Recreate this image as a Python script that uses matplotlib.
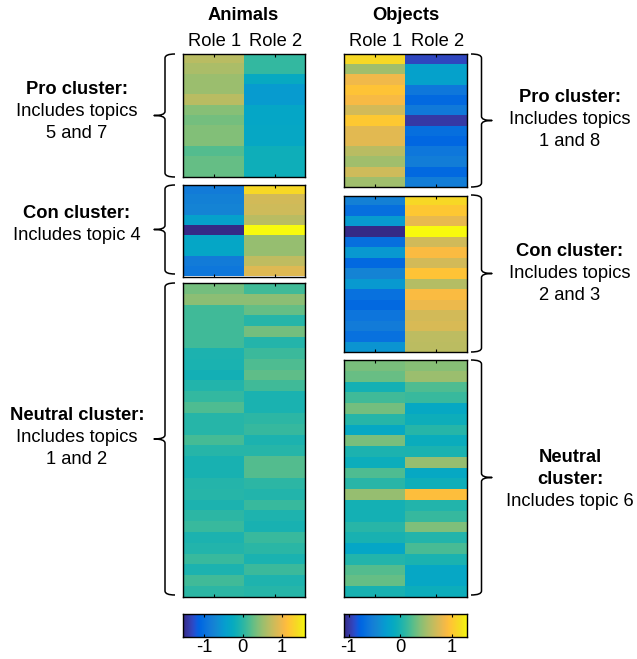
import numpy as np
import matplotlib
matplotlib.use("Agg")
import matplotlib.pyplot as plt
from matplotlib.colors import LinearSegmentedColormap
from matplotlib.path import Path
from matplotlib.patches import PathPatch

plt.rcParams['font.family'] = ['Liberation Sans', 'DejaVu Sans']
plt.rcParams['axes.unicode_minus'] = False

# ---------------- data ----------------
panels = ["Animals", "Objects"]
roles = ["Role 1", "Role 2"]

animals_pro_r1 = [0.66, 0.59, 0.50, 0.50, 0.66, 0.40, 0.31, 0.37, 0.37, 0.18, 0.25, 0.25]
animals_pro_r2 = [0.03, 0.03, -0.29, -0.51, -0.51, -0.35, -0.35, -0.32, -0.32, -0.20, -0.20, -0.20]
animals_con_r1 = [-0.86, -0.79, -0.76, -0.42, -1.55, -0.35, -0.35, -0.86, -0.92]
animals_con_r2 = [1.35, 0.81, 0.78, 0.66, 1.60, 0.47, 0.47, 0.69, 0.88]
animals_neu_r1 = [0.31, 0.43, 0.09, 0.09, 0.09, 0.09, -0.10, -0.12, -0.16, -0.07, 0.03, 0.15,
                  -0.04, -0.04, 0.12, -0.04, -0.13, -0.13, -0.05, -0.04, -0.10, 0.00, 0.06,
                  -0.10, -0.07, 0.06, -0.10, 0.09, 0.00]
animals_neu_r2 = [0.09, 0.43, 0.25, -0.04, 0.31, -0.05, 0.07, 0.15, 0.23, 0.09, -0.12, -0.12,
                  0.00, 0.04, -0.10, -0.04, 0.18, 0.18, 0.00, -0.07, 0.06, -0.09, -0.13,
                  0.06, -0.02, -0.12, 0.07, -0.09, -0.04]

objects_pro_r1 = [1.11, 0.48, 0.84, 0.96, 0.87, 0.70, 1.00, 0.77, 0.77, 0.58, 0.48, 0.68, 0.48]
objects_pro_r2 = [-0.93, -0.24, -0.24, -0.62, -0.74, -0.60, -1.00, -0.69, -0.76, -0.62, -0.55, -0.74, -0.55]
objects_con_r1 = [-0.52, -0.69, -0.31, -1.10, -0.69, -0.33, -0.74, -0.50, -0.33, -0.67, -0.74,
                  -0.64, -0.57, -0.67, -0.36]
objects_con_r2 = [1.11, 0.99, 0.80, 1.30, 0.69, 0.89, 0.70, 0.96, 0.56, 0.89, 0.82, 0.70, 0.72, 0.60, 0.59]
objects_neu_r1 = [0.34, 0.28, -0.04, 0.15, 0.32, 0.05, -0.16, 0.34, 0.00, -0.09, 0.20, 0.06,
                  0.44, -0.04, -0.04, 0.06, -0.02, -0.19, 0.03, 0.22, 0.27, -0.02]
objects_neu_r2 = [0.39, 0.46, 0.20, 0.12, -0.16, -0.08, 0.05, -0.10, -0.01, 0.44, -0.16, -0.07,
                  0.92, 0.03, 0.11, 0.36, 0.03, 0.18, -0.01, -0.18, -0.18, -0.09]

animals_clim = [-1.55, 1.60]
objects_clim = [-1.10, 1.30]
cbar_ticks = [-1, 0, 1]

animals_labels = [
    ["Pro cluster:", "Includes topics", "5 and 7"],
    ["Con cluster:", "Includes topic 4"],
    ["Neutral cluster:", "Includes topics", "1 and 2"],
]
animals_bold = [1, 1, 1]
objects_labels = [
    ["Pro cluster:", "Includes topics", "1 and 8"],
    ["Con cluster:", "Includes topics", "2 and 3"],
    ["Neutral", "cluster:", "Includes topic 6"],
]
objects_bold = [1, 1, 2]

# ---------------- parula colormap ----------------
_parula = [[0.2081, 0.1663, 0.5292], [0.2116, 0.1898, 0.5777], [0.2123, 0.2138, 0.6270],
           [0.2081, 0.2386, 0.6771], [0.1959, 0.2645, 0.7279], [0.1707, 0.2919, 0.7792],
           [0.1253, 0.3242, 0.8303], [0.0591, 0.3598, 0.8683], [0.0117, 0.3875, 0.8820],
           [0.0060, 0.4086, 0.8828], [0.0165, 0.4266, 0.8786], [0.0329, 0.4430, 0.8720],
           [0.0498, 0.4586, 0.8641], [0.0629, 0.4737, 0.8554], [0.0723, 0.4887, 0.8467],
           [0.0779, 0.5040, 0.8384], [0.0793, 0.5200, 0.8312], [0.0749, 0.5375, 0.8263],
           [0.0641, 0.5570, 0.8240], [0.0488, 0.5772, 0.8228], [0.0343, 0.5966, 0.8199],
           [0.0265, 0.6137, 0.8135], [0.0239, 0.6287, 0.8038], [0.0231, 0.6418, 0.7913],
           [0.0228, 0.6535, 0.7768], [0.0267, 0.6642, 0.7607], [0.0384, 0.6743, 0.7436],
           [0.0590, 0.6838, 0.7254], [0.0843, 0.6928, 0.7062], [0.1133, 0.7015, 0.6859],
           [0.1453, 0.7098, 0.6646], [0.1801, 0.7177, 0.6424], [0.2178, 0.7250, 0.6193],
           [0.2586, 0.7317, 0.5954], [0.3022, 0.7376, 0.5712], [0.3482, 0.7424, 0.5473],
           [0.3953, 0.7459, 0.5244], [0.4420, 0.7481, 0.5033], [0.4871, 0.7491, 0.4840],
           [0.5300, 0.7491, 0.4661], [0.5709, 0.7485, 0.4494], [0.6099, 0.7473, 0.4337],
           [0.6473, 0.7456, 0.4188], [0.6834, 0.7435, 0.4044], [0.7184, 0.7411, 0.3905],
           [0.7525, 0.7384, 0.3768], [0.7858, 0.7356, 0.3633], [0.8185, 0.7327, 0.3498],
           [0.8507, 0.7299, 0.3360], [0.8824, 0.7274, 0.3217], [0.9139, 0.7258, 0.3063],
           [0.9450, 0.7261, 0.2886], [0.9739, 0.7314, 0.2666], [0.9938, 0.7455, 0.2403],
           [0.9990, 0.7653, 0.2164], [0.9955, 0.7861, 0.1967], [0.9880, 0.8066, 0.1794],
           [0.9789, 0.8271, 0.1633], [0.9697, 0.8481, 0.1475], [0.9626, 0.8705, 0.1309],
           [0.9589, 0.8949, 0.1132], [0.9598, 0.9218, 0.0948], [0.9661, 0.9514, 0.0755],
           [0.9763, 0.9831, 0.0538]]
parula = LinearSegmentedColormap.from_list("parula", _parula, N=256)

# ---------------- figure ----------------
W, H = 637, 659
fig = plt.figure(figsize=(W / 100, H / 100), dpi=100)
FS = 13.2


def rect(x0, y0, x1, y1):
    return [x0 / W, 1 - y1 / H, (x1 - x0) / W, (y1 - y0) / H]


animals_blocks = [(animals_pro_r1, animals_pro_r2), (animals_con_r1, animals_con_r2),
                  (animals_neu_r1, animals_neu_r2)]
objects_blocks = [(objects_pro_r1, objects_pro_r2), (objects_con_r1, objects_con_r2),
                  (objects_neu_r1, objects_neu_r2)]

animals_x = (183, 305)
objects_x = (344, 467)
animals_y = [(54, 177), (185, 276.5), (283, 597)]
objects_y = [(54, 187), (195.5, 352), (360, 597)]


def draw_block(xr, yr, r1, r2, clim):
    ax = fig.add_axes(rect(xr[0], yr[0], xr[1], yr[1]))
    data = np.column_stack([r1, r2])
    ax.imshow(data, aspect='auto', cmap=parula, vmin=clim[0], vmax=clim[1],
              interpolation='nearest')
    ax.set_xticks([0, 1])
    ax.set_xticklabels([])
    ax.set_yticks([])
    ax.tick_params(axis='x', direction='in', length=2.5, width=0.8, top=True, bottom=True)
    for s in ax.spines.values():
        s.set_linewidth(1.0)
    return ax


for (r1, r2), yr in zip(animals_blocks, animals_y):
    draw_block(animals_x, yr, r1, r2, animals_clim)
for (r1, r2), yr in zip(objects_blocks, objects_y):
    draw_block(objects_x, yr, r1, r2, objects_clim)


def draw_cbar(xr, clim):
    ax = fig.add_axes(rect(xr[0], 613.5, xr[1], 637))
    grad = np.linspace(clim[0], clim[1], 256)[None, :]
    ax.imshow(grad, aspect='auto', cmap=parula, vmin=clim[0], vmax=clim[1],
              extent=[clim[0], clim[1], 0, 1])
    ax.set_xlim(clim)
    ax.set_yticks([])
    ax.set_xticks(cbar_ticks)
    ax.set_xticklabels([str(t) for t in cbar_ticks], fontsize=FS)
    ax.tick_params(axis='x', direction='in', length=2.5, width=0.8, top=True, bottom=True, pad=1.5)
    for s in ax.spines.values():
        s.set_linewidth(1.0)


draw_cbar((182.5, 305), animals_clim)
draw_cbar((343.5, 467), objects_clim)

# ---------------- overlay: titles, labels, braces ----------------
ov = fig.add_axes([0, 0, 1, 1])
ov.set_xlim(0, W)
ov.set_ylim(H, 0)
ov.axis('off')
ov.patch.set_alpha(0)

ov.text(243.5, 15, panels[0], ha='center', va='center', fontsize=FS, fontweight='bold')
ov.text(405.5, 15, panels[1], ha='center', va='center', fontsize=FS, fontweight='bold')
for xr in (animals_x, objects_x):
    mid = (xr[0] + xr[1]) / 2
    ov.text((xr[0] + mid) / 2 + 1, 42, roles[0], ha='center', va='center', fontsize=FS)
    ov.text((mid + xr[1]) / 2 + 1, 42, roles[1], ha='center', va='center', fontsize=FS)


def brace(x_line, x_tip, x_nib, y0, y1, ymid):
    r = 4.0
    verts = [(x_tip, y0), (x_line, y0), (x_line, y0 + r),
             (x_line, ymid - r), (x_line, ymid), (x_nib, ymid),
             (x_line, ymid), (x_line, ymid + r),
             (x_line, y1 - r), (x_line, y1), (x_tip, y1)]
    codes = [Path.MOVETO, Path.CURVE3, Path.CURVE3,
             Path.LINETO, Path.CURVE3, Path.CURVE3,
             Path.CURVE3, Path.CURVE3,
             Path.LINETO, Path.CURVE3, Path.CURVE3]
    ov.add_patch(PathPatch(Path(verts, codes), fill=False, lw=1.1, color='black',
                           capstyle='butt', joinstyle='round'))


def labels(xc, ymid, lines, nbold):
    n = len(lines)
    step = 22
    y_start = ymid - step * (n - 1) / 2
    for i, line in enumerate(lines):
        ov.text(xc, y_start + i * step, line, ha='center', va='center', fontsize=FS,
                fontweight='bold' if i < nbold else 'normal')


left_spans = [(54, 177), (185, 274), (283, 595)]
left_text_mid = [112, 224, 437]
for (y0, y1), lines, nb, tm in zip(left_spans, animals_labels, animals_bold, left_text_mid):
    brace(165, 175, 154, y0, y1, (y0 + y1) / 2)
    labels(77, tm, lines, nb)

right_spans = [(54, 187), (195, 352), (360, 595)]
right_text_mid = [119, 273, 479]
for (y0, y1), lines, nb, tm in zip(right_spans, objects_labels, objects_bold, right_text_mid):
    brace(481.5, 471, 492, y0, y1, (y0 + y1) / 2)
    labels(570, tm, lines, nb)

fig.savefig("out.png", dpi=100)
